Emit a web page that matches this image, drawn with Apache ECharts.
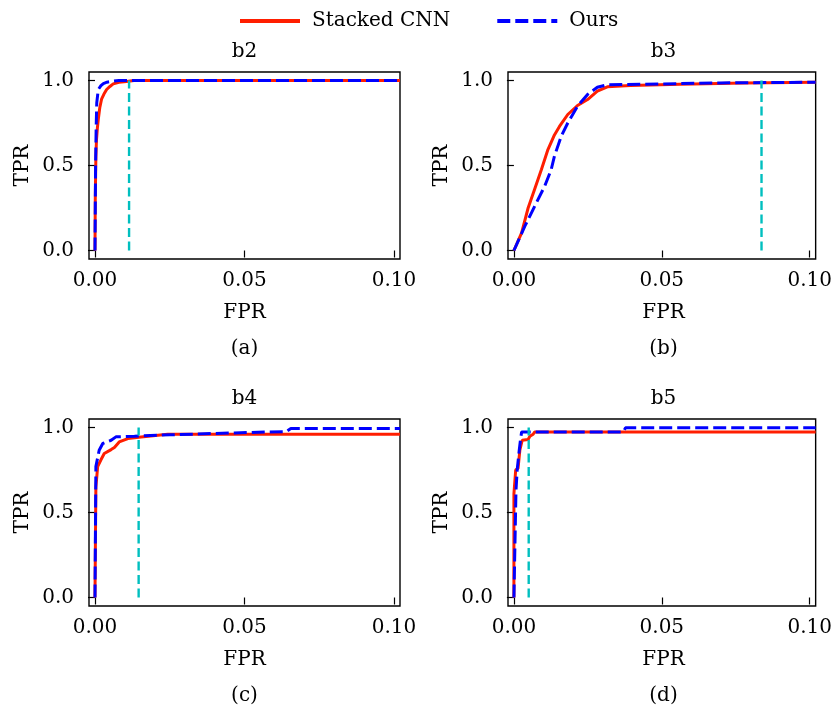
<!DOCTYPE html>
<html>
<head>
<meta charset="utf-8">
<script src="https://cdn.jsdelivr.net/npm/echarts@6/dist/echarts.min.js"></script>
<style>html,body{margin:0;padding:0;background:#fff;}#c{width:835px;height:711px;}</style>
</head>
<body>
<div id="c"></div>
<script>
// ---- data ----
const panelTitles = ['b2', 'b3', 'b4', 'b5'];
const panelLabels = ['(a)', '(b)', '(c)', '(d)'];
const xTicks = [0, 0.05, 0.10];
const yTicks = [0, 0.5, 1.0];
const seriesNames = ['Stacked CNN', 'Ours'];

const stackedB2 = [[0,0],[0.0001,0.3],[0.0003,0.55],[0.0005,0.65],[0.0008,0.72],[0.0011,0.77],[0.0016,0.84],[0.0022,0.89],[0.003,0.92],[0.0039,0.947],[0.005,0.965],[0.0061,0.98],[0.008,0.99],[0.0106,0.994],[0.013,1.0],[0.102,1.0]];
const oursB2 = [[0,0],[0.0002,0.5],[0.0004,0.73],[0.0006,0.87],[0.0011,0.947],[0.002,0.97],[0.0028,0.982],[0.004,0.99],[0.0061,0.996],[0.008,1.0],[0.102,1.0]];

const stackedB3 = [[0,0],[0.0026,0.104],[0.0048,0.25],[0.007,0.36],[0.0093,0.476],[0.0115,0.594],[0.0137,0.68],[0.0154,0.73],[0.0182,0.80],[0.0215,0.853],[0.0249,0.888],[0.0282,0.937],[0.0316,0.963],[0.0394,0.97],[0.056,0.978],[0.078,0.986],[0.102,0.99]];
const oursB3 = [[0,0],[0.0037,0.143],[0.007,0.26],[0.0104,0.378],[0.0126,0.476],[0.0137,0.555],[0.016,0.672],[0.0182,0.75],[0.0215,0.849],[0.0249,0.918],[0.0282,0.96],[0.0316,0.975],[0.05,0.98],[0.07,0.986],[0.102,0.99]];

const stackedB4 = [[0,0],[0.0003,0.65],[0.0009,0.77],[0.002,0.81],[0.0031,0.847],[0.0054,0.87],[0.0065,0.882],[0.0081,0.915],[0.011,0.935],[0.0154,0.944],[0.0243,0.96],[0.102,0.96]];
const oursB4 = [[0,0],[0.0003,0.77],[0.0014,0.866],[0.0026,0.906],[0.0054,0.925],[0.007,0.945],[0.0132,0.949],[0.025,0.957],[0.0466,0.968],[0.0578,0.974],[0.064,0.976],[0.0655,0.994],[0.102,0.994]];

const stackedB5 = [[0,0],[0,0.61],[0.0006,0.75],[0.0014,0.76],[0.002,0.866],[0.0028,0.925],[0.0048,0.929],[0.0054,0.948],[0.0065,0.96],[0.007,0.974],[0.102,0.974]];
const oursB5 = [[0,0],[0.0007,0.63],[0.0011,0.75],[0.0018,0.866],[0.0022,0.925],[0.0026,0.974],[0.037,0.974],[0.0377,0.998],[0.102,0.998]];

const thresholdX = [0.0114, 0.0837, 0.0146, 0.005];
const thresholdY = [0, 1.0];

const stackedAll = [stackedB2, stackedB3, stackedB4, stackedB5];
const oursAll = [oursB2, oursB3, oursB4, oursB5];

// ---- layout ----
const FONT = 'DejaVu Serif';
const FS = 20;
const gridPos = [
  {left: 89, top: 72}, {left: 508, top: 72},
  {left: 89, top: 419}, {left: 508, top: 419}
];
const GW = 311, GH = 187;

const grids = [], xAxes = [], yAxes = [], series = [], graphics = [];
gridPos.forEach((g, i) => {
  grids.push({left: g.left, top: g.top, width: GW, height: GH, show: true,
    borderColor: '#000', borderWidth: 1.4, backgroundColor: 'transparent', containLabel: false});
  xAxes.push({type: 'value', gridIndex: i, min: -0.002, max: 0.102,
    splitLine: {show: false}, axisLine: {show: false},
    axisTick: {show: true, length: 7, inside: false, customValues: xTicks, lineStyle: {color: '#000', width: 1.2}},
    axisLabel: {customValues: xTicks, color: '#000', fontFamily: FONT, fontSize: FS, margin: 12,
      formatter: v => v.toFixed(2)}});
  yAxes.push({type: 'value', gridIndex: i, min: -0.05, max: 1.05,
    splitLine: {show: false}, axisLine: {show: false},
    axisTick: {show: true, length: 7, inside: false, customValues: yTicks, lineStyle: {color: '#000', width: 1.2}},
    axisLabel: {customValues: yTicks, color: '#000', fontFamily: FONT, fontSize: FS, margin: 15,
      formatter: v => v.toFixed(1)}});
  series.push({name: seriesNames[0], type: 'line', xAxisIndex: i, yAxisIndex: i, data: stackedAll[i],
    symbol: 'none', smooth: false, color: '#ff1e00', lineStyle: {color: '#ff1e00', width: 3}, z: 2});
  series.push({name: seriesNames[1], type: 'line', xAxisIndex: i, yAxisIndex: i, data: oursAll[i],
    symbol: 'none', smooth: false, color: '#0000ff', lineStyle: {color: '#0000ff', width: 3, type: [13, 5]}, z: 3});
  series.push({name: 'threshold', type: 'line', xAxisIndex: i, yAxisIndex: i,
    data: thresholdY.map(y => [thresholdX[i], y]),
    symbol: 'none', lineStyle: {color: '#00bfbf', width: 2.4, type: [9, 4.5]}, z: 4});

  const cx = g.left + GW / 2;
  graphics.push({type: 'text', x: cx, y: g.top - 20, style: {text: panelTitles[i], font: `${FS}px "${FONT}"`, fill: '#000', textAlign: 'center', textVerticalAlign: 'middle'}});
  graphics.push({type: 'text', x: cx, y: g.top + GH + 54, style: {text: 'FPR', font: `${FS}px "${FONT}"`, fill: '#000', textAlign: 'center', textVerticalAlign: 'middle'}});
  graphics.push({type: 'text', x: cx, y: g.top + GH + 90, style: {text: panelLabels[i], font: `${FS}px "${FONT}"`, fill: '#000', textAlign: 'center', textVerticalAlign: 'middle'}});
  graphics.push({type: 'text', x: g.left - 66, y: g.top + GH / 2, rotation: Math.PI / 2,
    style: {text: 'TPR', font: `${FS}px "${FONT}"`, fill: '#000', textAlign: 'center', textVerticalAlign: 'middle'}});
});

const chart = echarts.init(document.getElementById('c'), null, {renderer: 'canvas'});
chart.setOption({
  animation: false,
  backgroundColor: '#fff',
  legend: {data: seriesNames, top: 6, left: 233, itemWidth: 60, itemHeight: 20, itemGap: 45,
    itemStyle: {opacity: 0},
    lineStyle: {width: 4},
    textStyle: {fontFamily: FONT, fontSize: FS, color: '#000', padding: [0, 0, 0, 7]}},
  grid: grids, xAxis: xAxes, yAxis: yAxes, series: series, graphic: graphics
});
</script>
</body>
</html>
